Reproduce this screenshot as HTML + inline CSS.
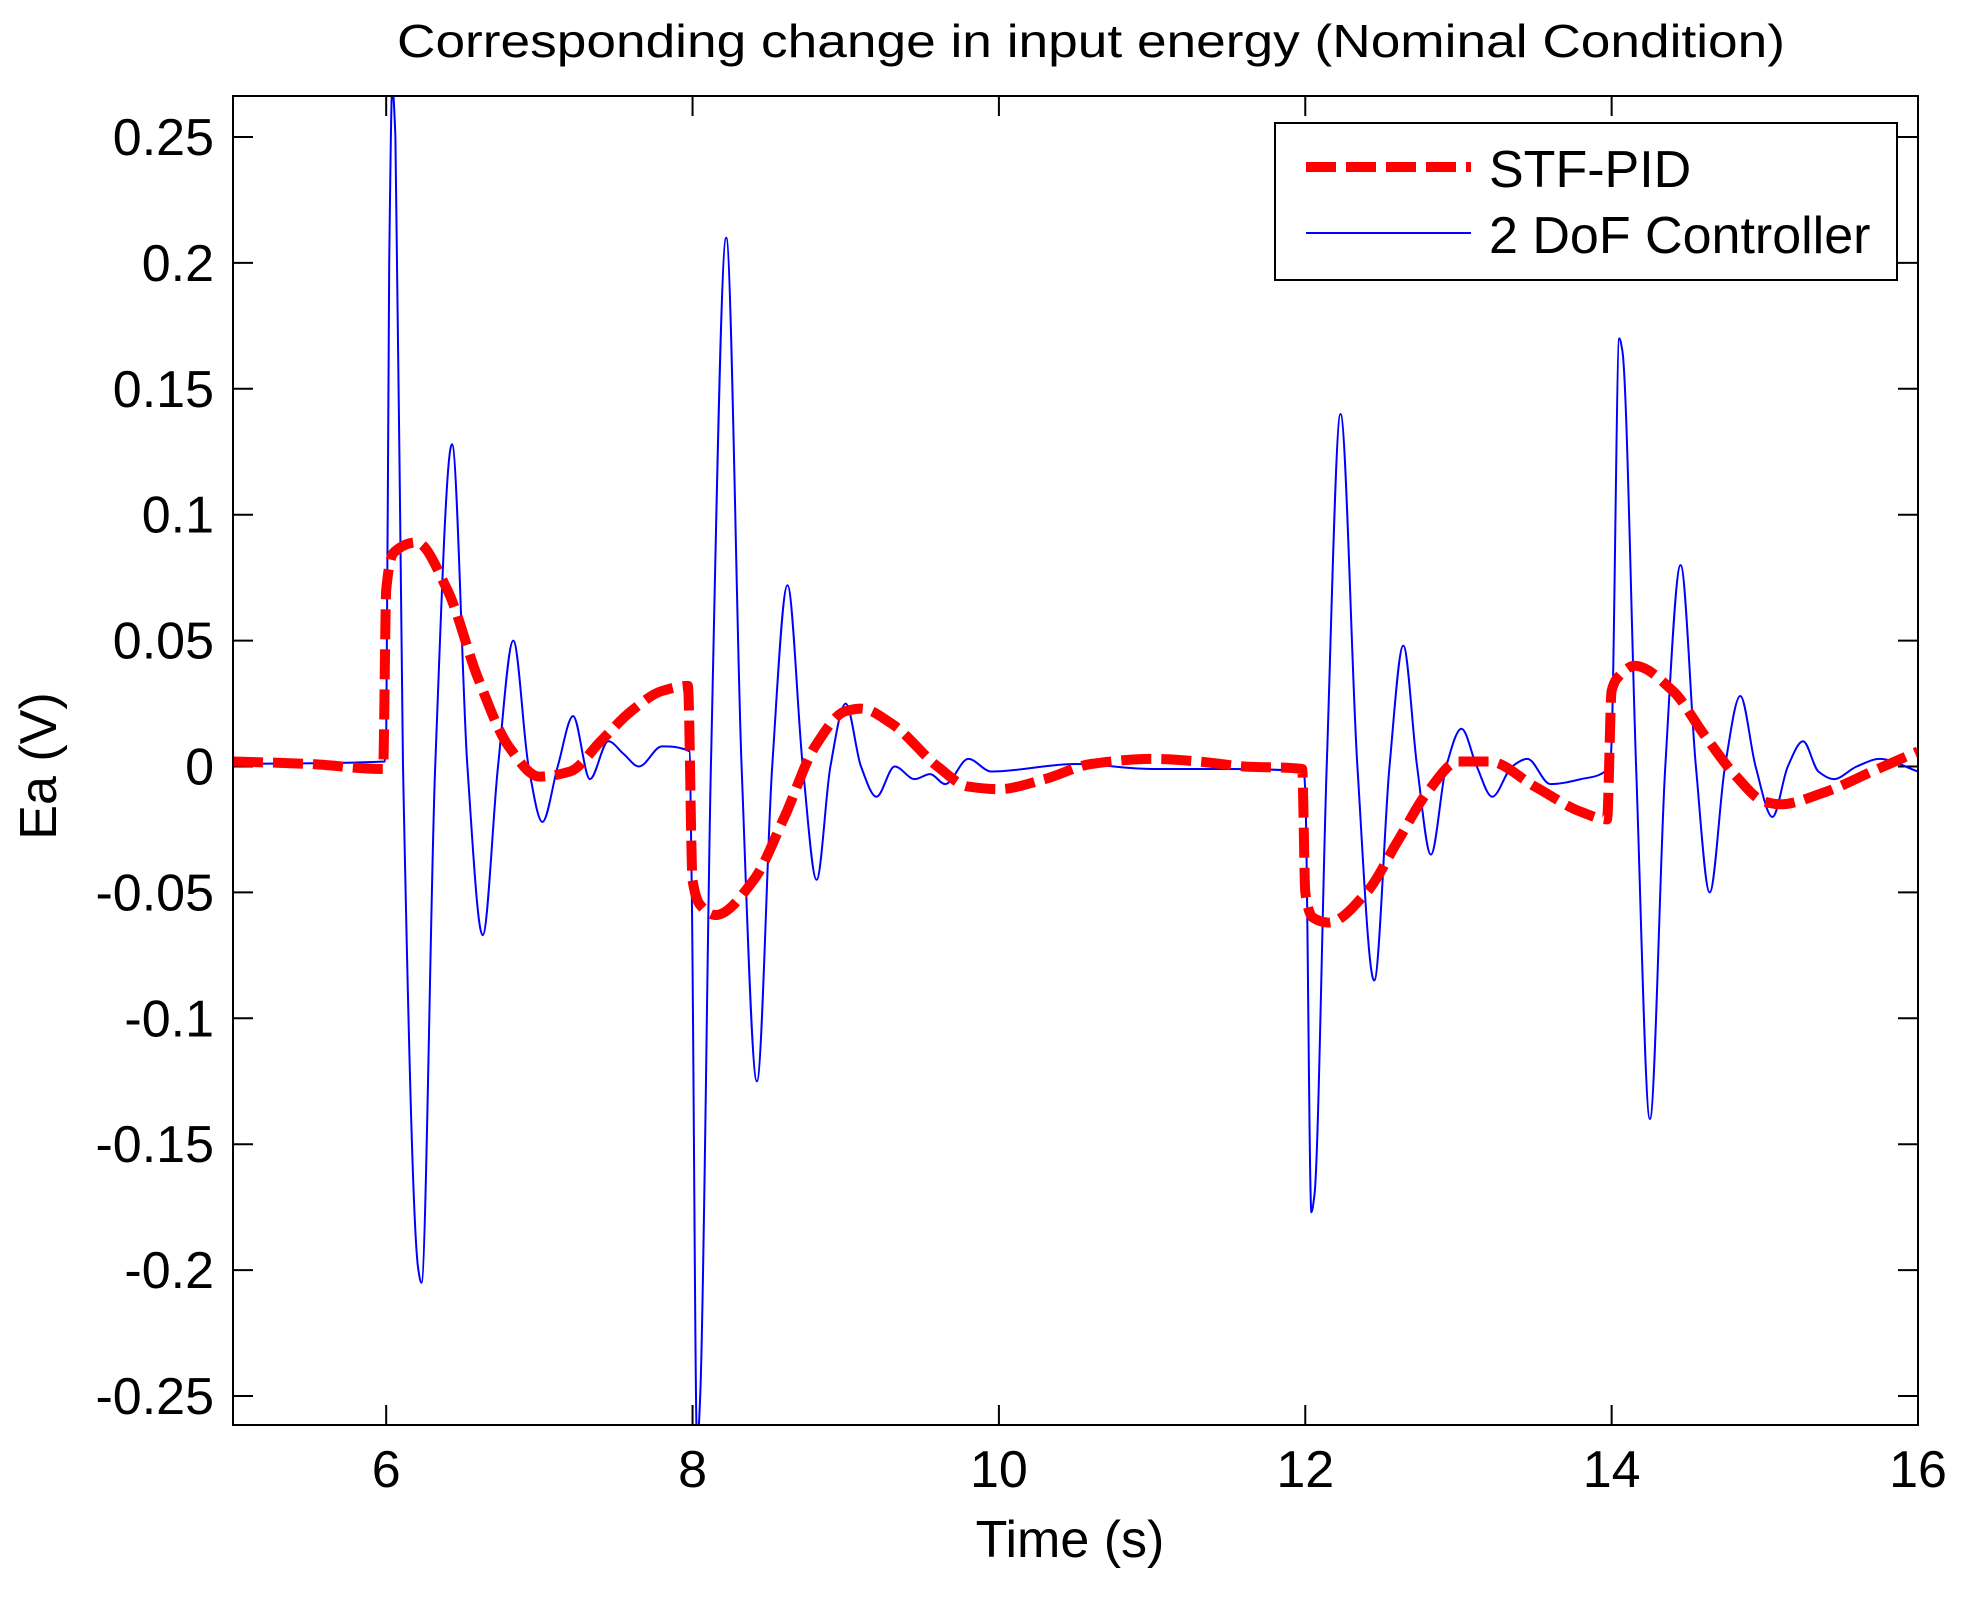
<!DOCTYPE html>
<html><head><meta charset="utf-8"><title>Corresponding change in input energy</title>
<style>html,body{margin:0;padding:0;background:#fff;}svg{display:block;font-family:"Liberation Sans",Arial,sans-serif;}</style>
</head><body>
<svg id="chart" width="1975" height="1604" viewBox="0 0 1975 1604" xmlns="http://www.w3.org/2000/svg">
<rect x="0" y="0" width="1975" height="1604" fill="#fff"/>
<defs><clipPath id="plotclip"><rect x="233" y="96" width="1685" height="1329"/></clipPath></defs>
<text x="1091" y="57" font-size="46" text-anchor="middle" textLength="1388" lengthAdjust="spacingAndGlyphs">Corresponding change in input energy (Nominal Condition)</text>
<g id="axes"></g>
<g id="series" clip-path="url(#plotclip)"></g>
<rect x="233" y="96" width="1685" height="1329" fill="none" stroke="#000" stroke-width="2"/>
<text x="1070" y="1557" font-size="52" text-anchor="middle">Time (s)</text>
<text x="0" y="0" font-size="52" text-anchor="middle" transform="translate(56,766) rotate(-90)">Ea (V)</text>
<g>
<rect x="1275" y="123" width="622" height="157" fill="#fff" stroke="#000" stroke-width="2"/>
<line x1="1306" y1="167" x2="1471" y2="167" stroke="#ff0000" stroke-width="10" stroke-dasharray="30 10"/>
<text x="1489" y="187" font-size="52">STF-PID</text>
<line x1="1306" y1="233" x2="1471" y2="233" stroke="#0000ff" stroke-width="2"/>
<text x="1489" y="253" font-size="52">2 DoF Controller</text>
</g>
</svg>
<script>
const xTicks = [6, 8, 10, 12, 14, 16];
const xTickLabels = ["6", "8", "10", "12", "14", "16"];
const yTicks = [0.25, 0.2, 0.15, 0.1, 0.05, 0, -0.05, -0.1, -0.15, -0.2, -0.25];
const yTickLabels = ["0.25", "0.2", "0.15", "0.1", "0.05", "0", "-0.05", "-0.1", "-0.15", "-0.2", "-0.25"];
const stfT = [5,5.5,5.98,6.0,6.05,6.2,6.4,6.6,6.8,7.0,7.2,7.4,7.6,7.8,7.97,8.0,8.05,8.15,8.4,8.6,8.8,9.0,9.1,9.3,9.6,9.8,10.0,10.3,10.6,11.0,11.3,11.6,11.98,12.0,12.05,12.15,12.4,12.6,12.8,13.0,13.2,13.5,13.8,13.97,14.0,14.05,14.15,14.4,14.6,14.8,15.0,15.1,15.4,15.7,16];
const stfV = [0.002,0.001,-0.001,0.07,0.085,0.089,0.07,0.035,0.008,-0.004,-0.002,0.01,0.022,0.03,0.032,-0.045,-0.055,-0.059,-0.045,-0.02,0.008,0.022,0.023,0.017,0.0,-0.008,-0.009,-0.005,0.001,0.003,0.002,0.0,-0.001,-0.05,-0.06,-0.062,-0.05,-0.03,-0.01,0.002,0.002,-0.008,-0.018,-0.021,0.03,0.036,0.04,0.03,0.013,-0.003,-0.014,-0.015,-0.01,-0.002,0.006];
const dofT = [5,5.99,6.0,6.02,6.04,6.06,6.11,6.21,6.23,6.32,6.43,6.53,6.63,6.73,6.83,6.93,7.02,7.12,7.22,7.33,7.45,7.55,7.65,7.8,7.98,7.995,8.03,8.05,8.12,8.22,8.32,8.42,8.52,8.62,8.72,8.81,8.9,9.0,9.1,9.2,9.32,9.45,9.55,9.65,9.8,9.95,10.5,11,11.5,11.99,12.0,12.04,12.06,12.14,12.23,12.34,12.45,12.55,12.64,12.73,12.82,12.92,13.02,13.12,13.22,13.35,13.45,13.6,13.8,13.99,14.0,14.05,14.07,14.16,14.25,14.35,14.45,14.55,14.64,14.74,14.84,14.94,15.05,15.15,15.25,15.35,15.45,15.6,15.75,16];
const dofV = [0.001,0.002,0.01,0.2,0.27,0.25,0.0,-0.2,-0.205,0.0,0.128,0.0,-0.067,0.0,0.05,0.0,-0.022,0.0,0.02,-0.005,0.01,0.005,0.0,0.008,0.006,-0.05,-0.27,-0.25,0.0,0.21,0.0,-0.125,0.0,0.072,0.0,-0.045,0.0,0.025,0.0,-0.012,0.0,-0.005,-0.003,-0.007,0.003,-0.002,0.001,-0.001,-0.001,-0.002,-0.01,-0.177,-0.17,0.0,0.14,0.0,-0.085,0.0,0.048,0.0,-0.035,0.0,0.015,0.0,-0.012,0.0,0.003,-0.007,-0.005,0.0,0.01,0.17,0.165,0.0,-0.14,0.0,0.08,0.0,-0.05,0.0,0.028,0.0,-0.02,0.0,0.01,-0.002,-0.005,0.0,0.003,-0.002];

const NS = "http://www.w3.org/2000/svg";
const X0 = 233, X1 = 1918, XMIN = 5, XMAX = 16;
const Y0 = 137, Y1 = 1396, YTOP = 0.25, YBOT = -0.25;
function xs(t){ return X0 + (t - XMIN) / (XMAX - XMIN) * (X1 - X0); }
function ys(v){ return Y0 + (YTOP - v) / (YTOP - YBOT) * (Y1 - Y0); }
function mk(tag, attrs){ const e = document.createElementNS(NS, tag); for (const k in attrs) e.setAttribute(k, attrs[k]); return e; }

const axes = document.getElementById('axes');
xTicks.forEach((t, i) => {
  const x = xs(t);
  const tb = mk('line', {x1:x, y1:1425, x2:x, y2:1405, stroke:'#000', 'stroke-width':2});
  
  
  axes.appendChild(tb);
  const tt = mk('line', {x1:x, y1:96, x2:x, y2:116, stroke:'#000', 'stroke-width':2});
  
  
  axes.appendChild(tt);
  const lb = mk('text', {x:x, y:1487, 'font-size':52, 'text-anchor':'middle'});
  lb.textContent = xTickLabels[i];
  
  
  axes.appendChild(lb);
});
yTicks.forEach((v, i) => {
  const y = ys(v);
  const tl = mk('line', {x1:233, y1:y, x2:253, y2:y, stroke:'#000', 'stroke-width':2});
  
  
  axes.appendChild(tl);
  const tr = mk('line', {x1:1918, y1:y, x2:1898, y2:y, stroke:'#000', 'stroke-width':2});
  
  
  axes.appendChild(tr);
  const lb = mk('text', {x:214, y:y + 18, 'font-size':52, 'text-anchor':'end'});
  lb.textContent = yTickLabels[i];
  
  
  axes.appendChild(lb);
});

const series = document.getElementById('series');
// monotone cubic (Fritsch-Carlson) path: no overshoot at jumps
function monoPath(T, V){
  const X = T.map(xs), Y = V.map(ys), n = X.length;
  const d = [], m = new Array(n);
  for (let i = 0; i < n - 1; i++) d.push((Y[i+1] - Y[i]) / (X[i+1] - X[i]));
  m[0] = d[0]; m[n-1] = d[n-2];
  for (let i = 1; i < n - 1; i++) {
    if (d[i-1] * d[i] <= 0) m[i] = 0;
    else { const h0 = X[i] - X[i-1], h1 = X[i+1] - X[i]; const w1 = 2*h1 + h0, w2 = h1 + 2*h0; m[i] = (w1 + w2) / (w1 / d[i-1] + w2 / d[i]); }
  }
  let p = 'M' + X[0].toFixed(1) + ',' + Y[0].toFixed(1);
  for (let i = 0; i < n - 1; i++) {
    const h = (X[i+1] - X[i]) / 3;
    p += ' C' + (X[i] + h).toFixed(1) + ',' + (Y[i] + m[i]*h).toFixed(1) + ' ' + (X[i+1] - h).toFixed(1) + ',' + (Y[i+1] - m[i+1]*h).toFixed(1) + ' ' + X[i+1].toFixed(1) + ',' + Y[i+1].toFixed(1);
  }
  return p;
}
const blue = mk('path', {d:monoPath(dofT, dofV), fill:'none', stroke:'#0000ff', 'stroke-width':2, 'stroke-linejoin':'round'});


series.appendChild(blue);
const red = mk('path', {d:monoPath(stfT, stfV), fill:'none', stroke:'#ff0000', 'stroke-width':10, 'stroke-dasharray':'30 10', 'stroke-linejoin':'round'});


series.appendChild(red);
</script>
</body></html>
